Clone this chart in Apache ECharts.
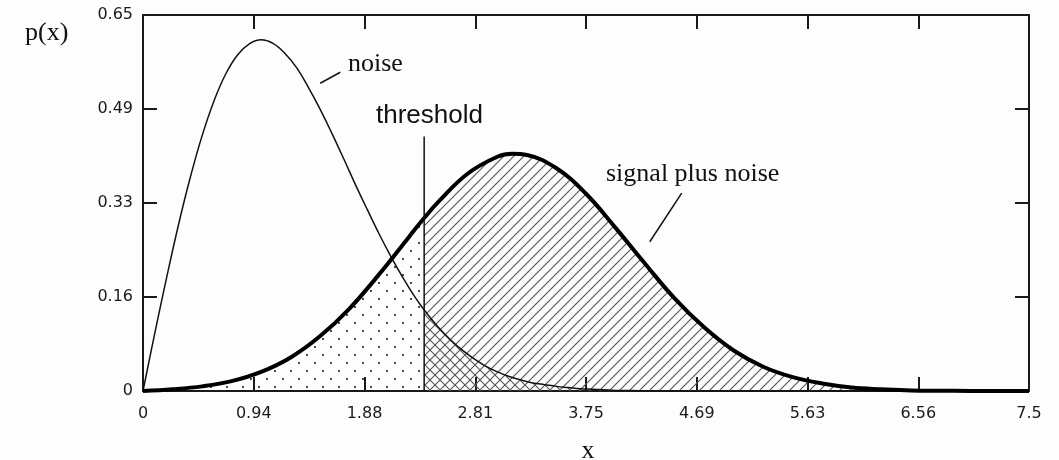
<!DOCTYPE html>
<html>
<head>
<meta charset="utf-8">
<script src="https://cdn.jsdelivr.net/npm/echarts@6/dist/echarts.min.js"></script>
<style>
html,body{margin:0;padding:0;background:#fdfdfd;}
#chart{width:1059px;height:460px;}
</style>
</head>
<body>
<div id="chart"></div>
<script>
// ---- data ----
const noiseX = [0,0.1,0.2,0.3,0.4,0.5,0.6,0.7,0.8,0.9,1.0,1.1,1.2,1.3,1.4,1.5,1.6,1.7,1.8,1.9,2.0,2.1,2.2,2.3,2.38,2.4,2.5,2.6,2.7,2.8,2.9,3.0,3.1,3.2,3.3,3.4,3.5,3.6,3.7,3.8,3.9,4.0,4.2,4.5,5.0,6.0,7.5];
const noiseY = [0,0.100,0.196,0.287,0.369,0.441,0.501,0.548,0.581,0.600,0.607,0.601,0.584,0.559,0.525,0.487,0.445,0.401,0.356,0.313,0.271,0.232,0.196,0.163,0.140,0.135,0.110,0.089,0.071,0.056,0.043,0.033,0.025,0.019,0.014,0.011,0.008,0.006,0.004,0.003,0.002,0.001,0.0006,0.0002,0,0,0];
const signalX = [0,0.25,0.5,0.75,1.0,1.25,1.5,1.75,2.0,2.25,2.38,2.5,2.75,3.0,3.125,3.25,3.5,3.75,4.0,4.25,4.5,4.75,5.0,5.25,5.5,5.75,6.0,6.25,6.5,7.0,7.5];
const signalY = [0,0.003,0.008,0.017,0.033,0.058,0.095,0.143,0.202,0.266,0.299,0.327,0.376,0.405,0.410,0.408,0.385,0.341,0.282,0.220,0.160,0.110,0.070,0.042,0.024,0.013,0.006,0.003,0.001,0.0002,0];
const thresholdX = 2.38;
const thresholdTop = 0.44;
const xTickLabels = ['0','0.94','1.88','2.81','3.75','4.69','5.63','6.56','7.5'];
const yTickLabels = ['0','0.16','0.33','0.49','0.65'];
const noiseLeaderX = [1.50, 1.67];
const noiseLeaderY = [0.532, 0.551];
const signalLeaderX = [4.29, 4.56];
const signalLeaderY = [0.258, 0.342];

// ---- helpers ----
function pairs(xs, ys, test) {
  const out = [];
  for (let i = 0; i < xs.length; i++) if (!test || test(xs[i])) out.push([xs[i], ys[i]]);
  return out;
}
function makeTile(w, h, draw) {
  const c = document.createElement('canvas');
  c.width = w; c.height = h;
  draw(c.getContext('2d'));
  return c;
}
const dotTile = makeTile(16, 16, ctx => {
  ctx.fillStyle = '#4a4a4a';
  ctx.fillRect(2, 2, 2, 2);
  ctx.fillRect(10, 10, 2, 2);
});
const slashTile = makeTile(10, 10, ctx => {
  ctx.strokeStyle = '#555'; ctx.lineWidth = 1.1;
  ctx.beginPath();
  ctx.moveTo(-1, 11); ctx.lineTo(11, -1);
  ctx.moveTo(-6, 6); ctx.lineTo(6, -6);
  ctx.moveTo(4, 16); ctx.lineTo(16, 4);
  ctx.stroke();
});
const backTile = makeTile(10, 10, ctx => {
  ctx.strokeStyle = '#555'; ctx.lineWidth = 1.1;
  ctx.beginPath();
  ctx.moveTo(-1, -1); ctx.lineTo(11, 11);
  ctx.moveTo(-6, 4); ctx.lineTo(6, 16);
  ctx.moveTo(4, -6); ctx.lineTo(16, 6);
  ctx.stroke();
});

const frame = {color: '#1a1a1a', width: 2};
const tickStyle = {show: true, inside: true, length: 14, lineStyle: {color: '#1a1a1a', width: 2}};
const tickFont = {fontFamily: 'DejaVu Sans', fontSize: 16, color: '#1a1a1a'};
const serif = 'Liberation Serif';

const chart = echarts.init(document.getElementById('chart'), null, {renderer: 'canvas'});
chart.setOption({
  animation: false,
  backgroundColor: '#fdfdfd',
  grid: {left: 143, right: 30, top: 15, bottom: 69, containLabel: false},
  xAxis: [
    {type: 'value', position: 'bottom', min: 0, max: 7.5, interval: 0.9375,
     axisLine: {show: true, onZero: false, lineStyle: frame}, axisTick: tickStyle,
     axisLabel: Object.assign({margin: 15, formatter: (v, i) => xTickLabels[i]}, tickFont),
     splitLine: {show: false}},
    {type: 'value', position: 'top', min: 0, max: 7.5, interval: 0.9375,
     axisLine: {show: true, onZero: false, lineStyle: frame}, axisTick: tickStyle,
     axisLabel: {show: false}, splitLine: {show: false}}
  ],
  yAxis: [
    {type: 'value', position: 'left', min: 0, max: 0.65, interval: 0.1625,
     axisLine: {show: true, onZero: false, lineStyle: frame}, axisTick: tickStyle,
     axisLabel: Object.assign({margin: 10, padding: [5, 0, 0, 0], formatter: (v, i) => yTickLabels[i]}, tickFont),
     splitLine: {show: false}},
    {type: 'value', position: 'right', min: 0, max: 0.65, interval: 0.1625,
     axisLine: {show: true, onZero: false, lineStyle: frame}, axisTick: tickStyle,
     axisLabel: {show: false}, splitLine: {show: false}}
  ],
  series: [
    {type: 'line', name: 'signal below threshold', silent: true, showSymbol: false, smooth: 0.4,
     data: pairs(signalX, signalY, x => x <= thresholdX),
     lineStyle: {opacity: 0}, areaStyle: {color: {image: dotTile, repeat: 'repeat'}, opacity: 1}, z: 1},
    {type: 'line', name: 'signal above threshold', silent: true, showSymbol: false, smooth: 0.4,
     data: pairs(signalX, signalY, x => x >= thresholdX),
     lineStyle: {opacity: 0}, areaStyle: {color: {image: slashTile, repeat: 'repeat'}, opacity: 1}, z: 1},
    {type: 'line', name: 'noise above threshold', silent: true, showSymbol: false, smooth: 0.4,
     data: pairs(noiseX, noiseY, x => x >= thresholdX),
     lineStyle: {opacity: 0}, areaStyle: {color: {image: backTile, repeat: 'repeat'}, opacity: 1}, z: 2},
    {type: 'line', name: 'noise', silent: true, showSymbol: false, smooth: 0.4,
     data: pairs(noiseX, noiseY), lineStyle: {color: '#111', width: 1.5}, z: 3},
    {type: 'line', name: 'signal plus noise', silent: true, showSymbol: false, smooth: 0.4,
     data: pairs(signalX, signalY), lineStyle: {color: '#000', width: 4}, z: 4},
    {type: 'line', name: 'threshold', silent: true, showSymbol: false,
     data: [[thresholdX, 0], [thresholdX, thresholdTop]], lineStyle: {color: '#111', width: 1.5}, z: 5},
    {type: 'line', name: 'noise leader', silent: true, showSymbol: false,
     data: pairs(noiseLeaderX, noiseLeaderY), lineStyle: {color: '#111', width: 1.5}, z: 5},
    {type: 'line', name: 'signal leader', silent: true, showSymbol: false,
     data: pairs(signalLeaderX, signalLeaderY), lineStyle: {color: '#111', width: 1.5}, z: 5}
  ],
  graphic: [
    {type: 'text', left: 25, top: 20, style: {text: 'p(x)', font: '26px "' + serif + '"', fill: '#111'}},
    {type: 'text', x: 588, y: 451, style: {text: 'x', font: '26px "' + serif + '"', fill: '#111', align: 'center', verticalAlign: 'middle'}},
    {type: 'text', x: 348, y: 64, style: {text: 'noise', font: '26px "' + serif + '"', fill: '#111', align: 'left', verticalAlign: 'middle'}},
    {type: 'text', x: 606, y: 174, style: {text: 'signal plus noise', font: '26px "' + serif + '"', fill: '#111', align: 'left', verticalAlign: 'middle'}},
    {type: 'text', x: 376, y: 116, style: {text: 'threshold', font: '26px "Liberation Sans"', fill: '#111', align: 'left', verticalAlign: 'middle'}}
  ]
});
</script>
</body>
</html>
